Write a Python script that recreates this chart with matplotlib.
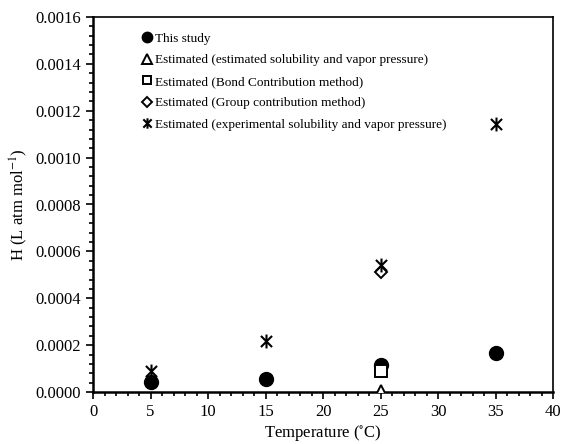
import matplotlib
matplotlib.use('Agg')
import matplotlib.pyplot as plt
import matplotlib.ticker as ticker
from matplotlib.path import Path

plt.rcParams['font.family'] = ['Liberation Serif', 'DejaVu Serif']
plt.rcParams['mathtext.fontset'] = 'stix'

# data
temp_this = [5, 15, 25, 35]
h_this = [0.000044, 0.000056, 0.000115, 0.000168]

temp_est_sol = [25]
h_est_sol = [0.000005]

temp_bond = [25]
h_bond = [0.000088]

temp_group = [25]
h_group = [0.000513]

temp_exp = [5, 15, 25, 35]
h_exp = [0.000088, 0.000219, 0.000540, 0.001145]

labels = ['This study',
          'Estimated (estimated solubility and vapor pressure)',
          'Estimated (Bond Contribution method)',
          'Estimated (Group contribution method)',
          'Estimated (experimental solubility and vapor pressure)']

# asterisk: vertical bar plus an X
star = Path([(0, -1), (0, 1), (-0.8, -0.8), (0.8, 0.8), (-0.8, 0.8), (0.8, -0.8)],
            [Path.MOVETO, Path.LINETO, Path.MOVETO, Path.LINETO, Path.MOVETO, Path.LINETO])

fig = plt.figure(figsize=(5.61, 4.44), dpi=100)
ax = fig.add_axes([93/561, 52/444, 460/561, 375/444])

ax.plot(temp_this, h_this, 'o', color='black', markersize=10, label=labels[0], zorder=3)
ax.plot(temp_est_sol, h_est_sol, '^', mfc='white', mec='black', mew=1.4, markersize=9, label=labels[1], zorder=4)
ax.plot(temp_bond, h_bond, 's', mfc='white', mec='black', mew=1.4, markersize=8, label=labels[2], zorder=4)
ax.plot(temp_group, h_group, 'D', mfc='white', mec='black', mew=1.4, markersize=6.5, label=labels[3], zorder=4)
ax.plot(temp_exp, h_exp, marker=star, ls='none', color='black', mew=1.5, markersize=10, label=labels[4], zorder=5)

ax.set_xlim(0, 40)
ax.set_ylim(0, 0.0016)
ax.xaxis.set_major_locator(ticker.MultipleLocator(5))
ax.xaxis.set_minor_locator(ticker.MultipleLocator(1))
ax.yaxis.set_major_locator(ticker.MultipleLocator(0.0002))
ax.yaxis.set_minor_locator(ticker.MultipleLocator(0.00004))
ax.yaxis.set_major_formatter(ticker.FormatStrFormatter('%.4f'))

ax.tick_params(which='both', direction='out', top=False, right=False, labelsize=12, width=1.2)
ax.tick_params(which='major', length=5)
ax.tick_params(which='minor', length=3)
for s in ax.spines.values():
    s.set_linewidth(1.2)
ax.spines['bottom'].set_linewidth(1.8)
ax.spines['left'].set_linewidth(1.8)

ax.set_xlabel('Temperature ($^{\\circ}$C)', fontsize=12, labelpad=2)
ax.set_ylabel('H (L atm mol$^{-1}$)', fontsize=12)

ax.legend(loc='upper left', bbox_to_anchor=(0.074, 0.99), frameon=False, fontsize=9.5,
          handletextpad=0.0, labelspacing=0.7, handlelength=1.2, markerscale=0.75)

fig.savefig('out.png', dpi=100)
